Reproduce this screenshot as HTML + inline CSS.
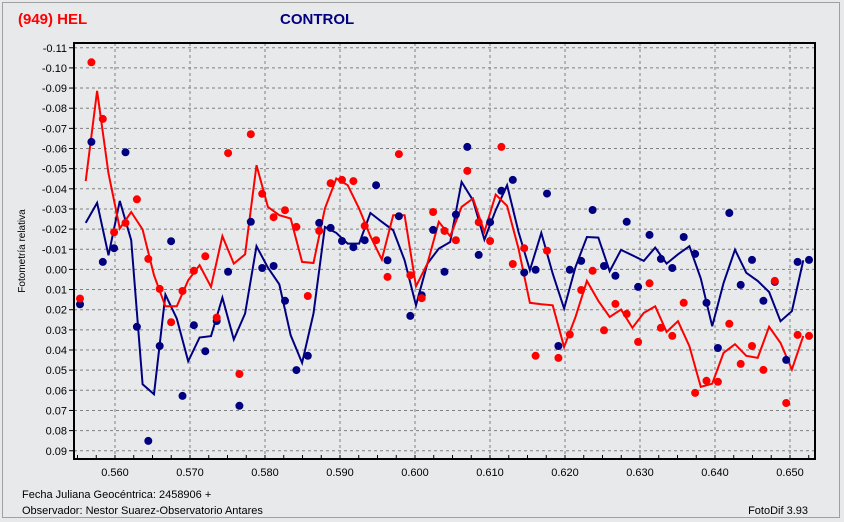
<!DOCTYPE html>
<html><head><meta charset="utf-8"><style>
html,body{margin:0;padding:0;background:#e8e9eb;}
svg{display:block;font-family:"Liberation Sans",sans-serif;}
</style></head><body>
<svg id="chart" width="844" height="522" xmlns="http://www.w3.org/2000/svg">
<rect x="0" y="0" width="844" height="522" fill="#e8e9eb"/>
<rect x="2.5" y="2.5" width="837" height="515" fill="none" stroke="#a0a0a0"/>
<text x="18" y="24" font-size="15" font-weight="bold" fill="#ff0000">(949) HEL</text>
<text x="280" y="24" font-size="15" font-weight="bold" fill="#000080">CONTROL</text>
<text transform="translate(25,251) rotate(-90)" text-anchor="middle" font-size="10" fill="#000">Fotometría relativa</text>
<text x="22" y="498" font-size="11" fill="#000">Fecha Juliana Geocéntrica: 2458906 +</text>
<text x="22" y="514" font-size="11" fill="#000">Observador: Nestor Suarez-Observatorio Antares</text>
<text x="808" y="514" text-anchor="end" font-size="11" fill="#000">FotoDif 3.93</text>
<g id="grid"></g><g id="axes"></g><g id="series"></g>
<rect x="74" y="43" width="741" height="416" fill="none" stroke="#000" stroke-width="2"/>
</svg>
<script>
const t0 = 0.55533;
const tStep = 0.0015188;
const xTicks = [0.560,0.570,0.580,0.590,0.600,0.610,0.620,0.630,0.640,0.650];
const xTickLabels = ["0.560","0.570","0.580","0.590","0.600","0.610","0.620","0.630","0.640","0.650"];
const yTicks = [-0.11,-0.10,-0.09,-0.08,-0.07,-0.06,-0.05,-0.04,-0.03,-0.02,-0.01,0,0.01,0.02,0.03,0.04,0.05,0.06,0.07,0.08,0.09];
const yTickLabels = ["-0.11","-0.10","-0.09","-0.08","-0.07","-0.06","-0.05","-0.04","-0.03","-0.02","-0.01","0.00","0.01","0.02","0.03","0.04","0.05","0.06","0.07","0.08","0.09"];
const redPoints = [1.45,-10.28,-7.47,-1.84,-2.31,-3.48,-0.52,0.97,2.62,1.07,0.07,-0.65,2.39,-5.77,5.19,-6.71,-3.75,-2.59,-2.94,-2.11,1.32,-1.91,-4.28,-4.44,-4.38,-2.16,-1.45,0.37,-5.72,0.29,1.43,-2.85,-1.91,-1.45,
 -4.89,-2.34,-1.41,-6.08,-0.27,-1.05,4.29,-0.93,4.39,3.23,1.02,0.07,3.02,1.71,2.21,3.60,0.69,2.90,3.30,1.66,6.13,5.53,5.58,2.70,4.69,3.80,4.99,0.57,6.63,3.25,3.30];
const bluePoints = [1.73,-6.33,-0.37,-1.05,-5.81,2.85,8.51,3.80,-1.40,6.28,2.77,4.06,2.56,0.12,6.77,-2.36,-0.07,-0.17,1.56,5.00,4.29,-2.31,-2.06,-1.41,-1.10,-1.45,-4.18,-0.45,-2.64,2.31,1.28,-1.96,0.12,-2.72,
 -6.08,-0.72,-2.34,-3.90,-4.44,0.16,0.02,-3.76,3.80,0.02,-0.42,-2.95,-0.17,0.32,-2.36,0.87,-1.71,-0.52,-0.07,-1.61,-0.77,1.66,3.90,-2.80,0.77,-0.47,1.56,0.62,4.49,-0.37,-0.47];
const redLine = [-4.38,-8.86,-4.76,-2.03,-2.85,-1.98,0.29,1.83,1.83,0.54,-0.21,0.87,-1.65,-0.29,-0.75,-5.17,-3.10,-2.69,-2.52,-0.37,-0.32,-3.02,-4.51,-4.18,-3.02,-1.65,-0.49,-2.69,-2.69,0.84,-0.29,-2.36,-1.65,
 -3.10,-3.52,-1.86,-3.71,-3.15,-1.03,1.66,1.73,1.78,3.85,2.36,0.57,1.56,2.36,1.99,2.90,2.16,1.83,3.10,2.57,3.81,5.83,5.67,4.14,3.71,4.29,4.39,2.85,3.65,4.97,3.30];
const blueLine = [-2.31,-3.30,-0.70,-3.40,-1.45,5.70,6.20,1.25,2.44,4.56,3.38,3.31,1.40,3.48,2.19,-1.15,-0.09,0.74,3.27,4.64,2.19,-2.11,-1.81,-1.28,-1.28,-2.80,-2.36,-1.94,-0.45,1.78,-0.29,-1.03,-1.36,
 -4.34,-3.43,-1.48,-2.94,-4.18,-1.86,0.04,-1.81,0.21,1.94,-0.12,-1.61,-1.58,0.09,-0.97,-0.70,-0.42,-1.08,-0.29,-0.75,-1.15,0.45,2.82,0.67,-0.98,0.17,0.57,1.12,2.57,2.07,-0.45];

const NS='http://www.w3.org/2000/svg';
function xs(v){return 115+(v-0.560)*7500;}
function ys(v){return 269.4+v*2015;}
function mk(tag,attrs,parent){const e=document.createElementNS(NS,tag);for(const k in attrs)e.setAttribute(k,attrs[k]);parent.appendChild(e);return e;}
const grid=document.getElementById('grid'),axes=document.getElementById('axes'),ser=document.getElementById('series');
xTicks.forEach((t,i)=>{
  const x=xs(t);
  const g=mk('line',{x1:x,x2:x,y1:43,y2:459,stroke:'#808080','stroke-dasharray':'3,3'},grid);
  
  
  const lb=mk('text',{x:x,y:476,'text-anchor':'middle','font-size':'11',fill:'#000'},axes);
  lb.textContent=xTickLabels[i];
  
  
});
for(let t=0.555;t<0.6535;t+=0.0025){
  const x=xs(t);
  const tk=mk('line',{x1:x,x2:x,y1:459,y2:455,stroke:'#000'},axes);
  
  
}
yTicks.forEach((t,i)=>{
  const y=ys(t);
  const g=mk('line',{x1:74,x2:815,y1:y,y2:y,stroke:'#808080','stroke-dasharray':'3,3'},grid);
  
  
  const tk=mk('line',{x1:69,x2:74,y1:y,y2:y,stroke:'#000'},axes);
  
  
  const lb=mk('text',{x:67,y:y+4,'text-anchor':'end','font-size':'11',fill:'#000'},axes);
  lb.textContent=yTickLabels[i];
  
  
});
function drawLine(arr,color,name){
  const pts=arr.map((v,i)=>xs(t0+(i+0.5)*tStep).toFixed(1)+','+ys(v/100).toFixed(1)).join(' ');
  const p=mk('polyline',{points:pts,fill:'none',stroke:color,'stroke-width':'2','stroke-linejoin':'miter'},ser);
  
  
}
function drawPts(arr,color,name){
  arr.forEach((v,i)=>{
    const c=mk('circle',{cx:xs(t0+i*tStep).toFixed(1),cy:ys(v/100).toFixed(1),r:4,fill:color},ser);
    
    
  });
}
drawLine(blueLine,'#000080','control-average-line');
drawLine(redLine,'#ff0000','target-average-line');
drawPts(bluePoints,'#000080','control-point');
drawPts(redPoints,'#ff0000','target-point');
</script>
</body></html>
